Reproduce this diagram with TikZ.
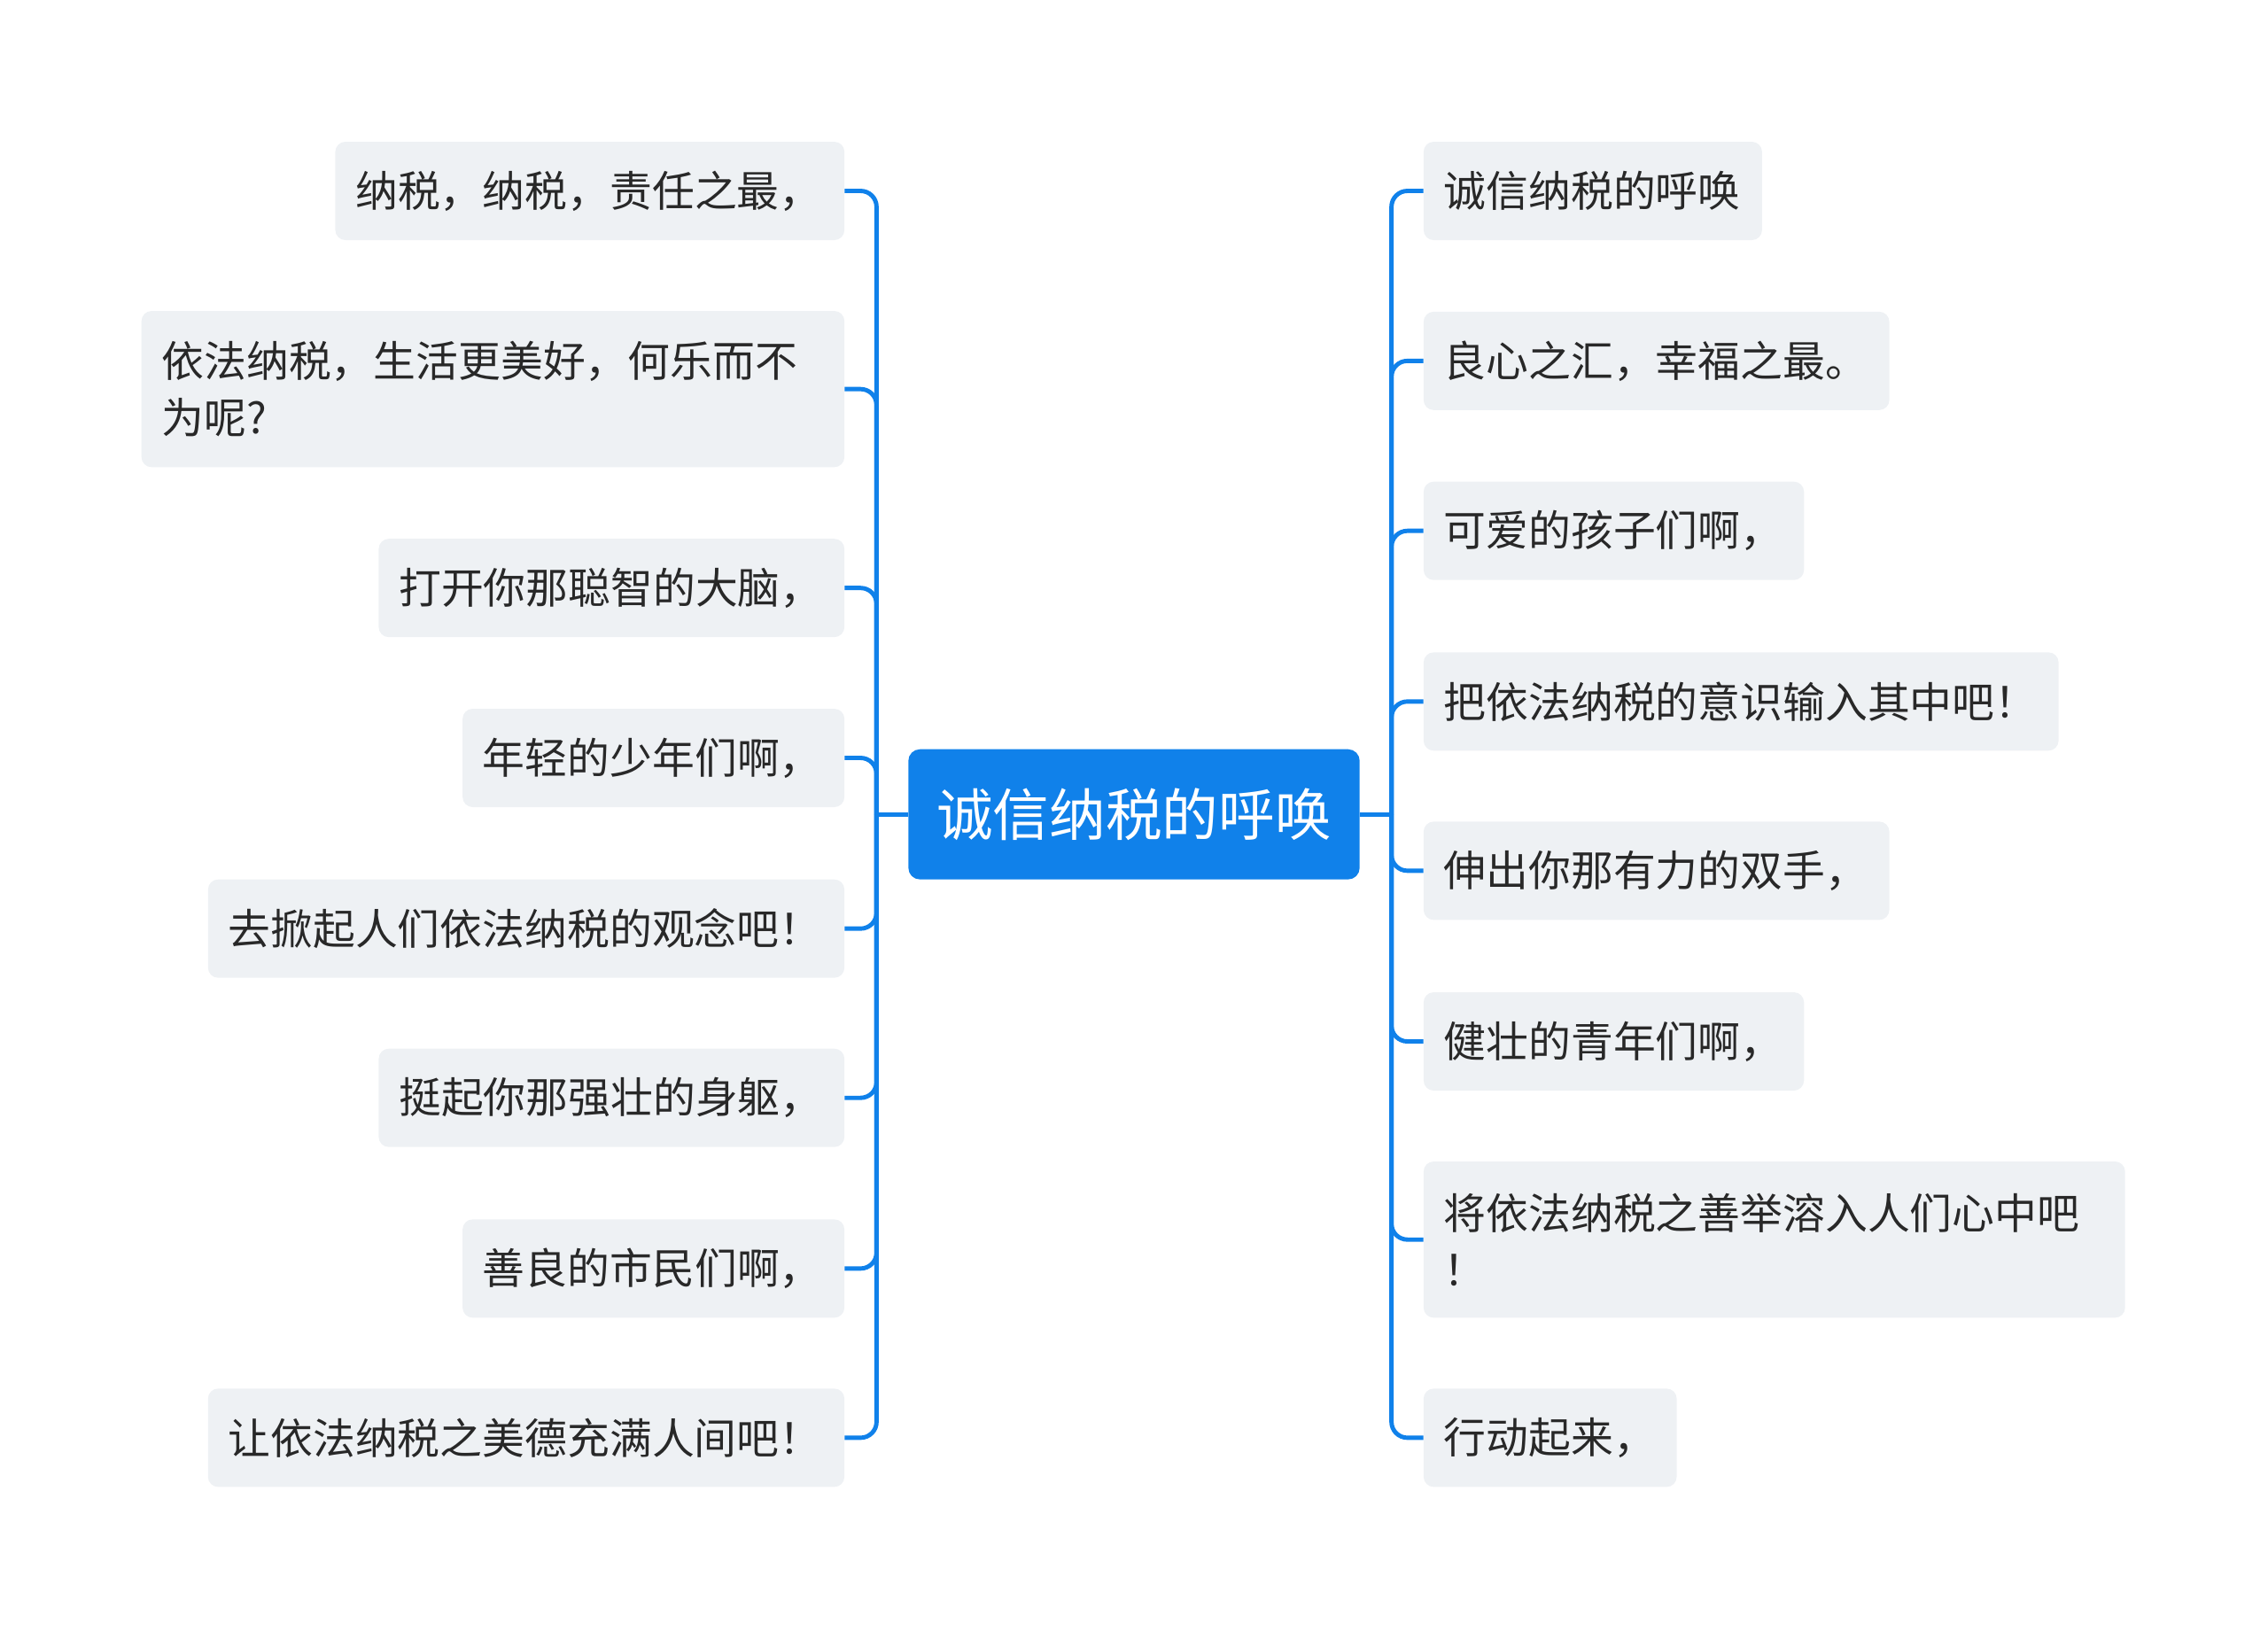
\documentclass[tikz,border=0pt]{standalone}
\usepackage{fontspec}
\setmainfont{Noto Sans CJK SC}
\definecolor{mainblue}{RGB}{16,129,234}
\definecolor{leaffill}{RGB}{238,241,244}
\definecolor{leaftext}{RGB}{40,40,40}
\begin{document}
\begin{tikzpicture}[x=1pt,y=-1pt,
  leaf/.style={fill=leaffill, text=leaftext, rounded corners=7pt, inner xsep=14pt, inner ysep=0pt,
    minimum height=68pt, align=left, font=\fontsize{29.3pt}{39pt}\selectfont},
  rootbox/.style={fill=mainblue, text=white, rounded corners=8pt, minimum width=312pt,
    minimum height=90pt, inner sep=0pt, font=\fontsize{39pt}{46pt}\selectfont},
  conn/.style={draw=mainblue, line width=3pt, rounded corners=11pt}]
\useasboundingbox (0,0) rectangle (1568,1127);

\node[rootbox] (C) at (784,563) {诚信纳税的呼唤};

% left side
\node[leaf, anchor=east, text width=324pt] (L1) at (584,132) {纳税，纳税，责任之最，};
\node[leaf, anchor=east, text width=458pt, minimum height=108pt] (L2) at (584,269) {依法纳税，生活更美好，何乐而不\\为呢?};
\node[leaf, anchor=east, text width=294pt] (L3) at (584,406.5) {打开你那聪智的大脑，};
\node[leaf, anchor=east, text width=236pt] (L4) at (584,524) {年轻的少年们啊，};
\node[leaf, anchor=east, text width=412pt] (L5) at (584,642) {去掀起人们依法纳税的观念吧！};
\node[leaf, anchor=east, text width=294pt] (L6) at (584,759) {挺起你那强壮的身躯，};
\node[leaf, anchor=east, text width=236pt] (L7) at (584,877) {善良的市民们啊，};
\node[leaf, anchor=east, text width=412pt] (L8) at (584,994) {让依法纳税之美德充满人间吧！};

% right side
\node[leaf, anchor=west, text width=206pt] (R1) at (984,132) {诚信纳税的呼唤};
\node[leaf, anchor=west, text width=294pt] (R2) at (984,249.5) {良心之汇，幸福之最。};
\node[leaf, anchor=west, text width=235pt] (R3) at (984,367) {可爱的孩子们啊，};
\node[leaf, anchor=west, text width=411pt] (R4) at (984,485) {把依法纳税的意识输入其中吧！};
\node[leaf, anchor=west, text width=294pt] (R5) at (984,602) {伸出你那有力的双手，};
\node[leaf, anchor=west, text width=235pt] (R6) at (984,720) {健壮的青年们啊，};
\node[leaf, anchor=west, text width=457pt, minimum height=108pt] (R7) at (984,857) {将依法纳税之善举溶入人们心中吧\\！};
\node[leaf, anchor=west, text width=147pt] (R8) at (984,994) {行动起来，};

\coordinate (LJ) at (606,563);
\coordinate (RJ) at (962,563);

\draw[conn] (C.west) -- (LJ);
\draw[conn] (C.east) -- (RJ);
\foreach \n in {L1,L2,L3,L4,L5,L6,L7,L8}
  \draw[conn] (LJ) |- (\n.east);
\foreach \n in {R1,R2,R3,R4,R5,R6,R7,R8}
  \draw[conn] (RJ) |- (\n.west);
\end{tikzpicture}
\end{document}
